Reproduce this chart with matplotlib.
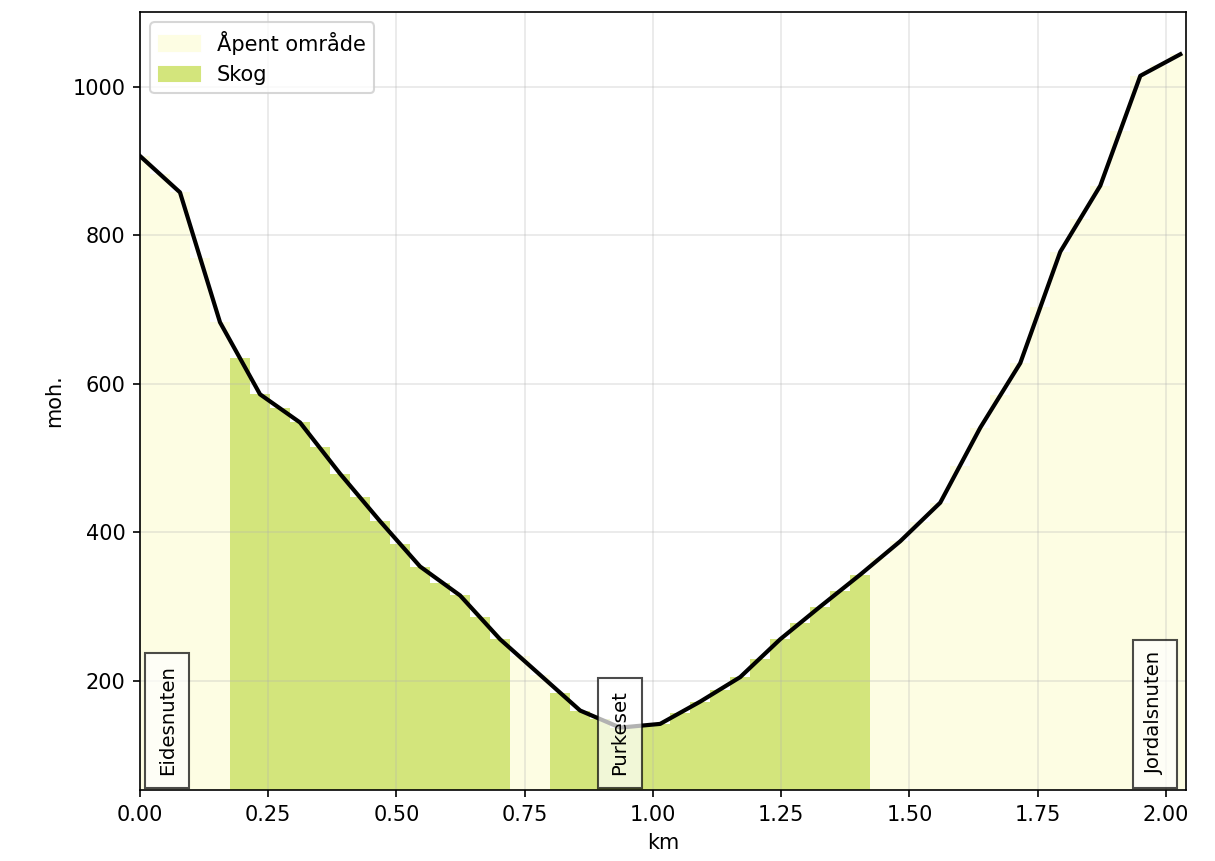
import numpy as np
import matplotlib
matplotlib.use("Agg")
from matplotlib import pyplot as plt
from matplotlib.patches import Patch

# distance step between profile samples (km)
step = 0.039

# elevation (moh.) at every sample
elevation = [907, 883, 858, 769, 683, 635, 586, 567, 548, 515,
             479, 447, 415, 385, 354, 332, 315, 286, 256, 234,
             208, 184, 160, 148, 137, 139, 142, 157, 172, 188,
             205, 230, 256, 278, 300, 321, 343, 366, 388, 414,
             440, 490, 541, 585, 628, 703, 778, 822, 867, 941,
             1015, 1030, 1044]

# land type per sample: 0 = open area, 1 = forest
terrain = [0] * 5 + [1] * 14 + [0] * 2 + [1] * 16 + [0] * 16

terrain_names = ['Åpent område', 'Skog']
terrain_colors = ['#fdfde3', '#d3e57c']

# named places along the route
place_names = ['Eidesnuten', 'Purkeset', 'Jordalsnuten']
place_km = [0.053, 0.935, 1.978]

dist = np.arange(len(elevation)) * step
elev = np.array(elevation)

fig = plt.figure(figsize=(8.1, 5.74), dpi=150)
ax = fig.add_axes([0.1152, 0.0825, 0.8609, 0.9036])

ax.bar(dist, elev, width=step, color=[terrain_colors[t] for t in terrain],
       linewidth=0)
# line only through every other sample
ax.plot(dist[::2], elev[::2], color='black', lw=2)

for name, x in zip(place_names, place_km):
    ax.text(x, 73, name, rotation=90, ha='center', va='bottom', fontsize=9.5,
            bbox=dict(facecolor='white', edgecolor='black', alpha=0.7, pad=6))

ax.set_xlim(0, 2.039)
ax.set_ylim(53, 1101)
ax.set_yticks([200, 400, 600, 800, 1000])
ax.grid(alpha=0.3)
ax.set_xlabel('km')
ax.set_ylabel('moh.')

handles = [Patch(color=c, label=n) for c, n in zip(terrain_colors, terrain_names)]
ax.legend(handles=handles, loc='upper left')

fig.savefig('out.png', dpi=150)
